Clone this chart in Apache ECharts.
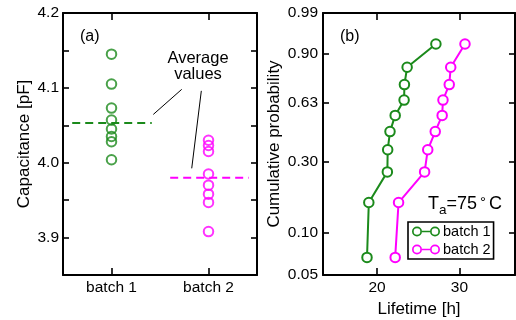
<!DOCTYPE html>
<html><head><meta charset="utf-8">
<script src="https://cdn.jsdelivr.net/npm/echarts@6/dist/echarts.min.js"></script>
<style>html,body{margin:0;padding:0;background:#fff}#c{width:516px;height:320px}</style>
</head><body><div id="c"></div>
<script>
// ---- data ----
const batchLabels = ['batch 1', 'batch 2'];
const capBatch1 = [4.145, 4.105, 4.073, 4.057, 4.045, 4.035, 4.028, 4.004];
const capBatch2 = [4.030, 4.023, 4.015, 3.985, 3.970, 3.958, 3.947, 3.908];
const capAverages = [4.053, 3.980];
const capTicks = [3.9, 4.0, 4.1, 4.2];
const capAllTicks = [3.9, 3.95, 4.0, 4.05, 4.1, 4.15, 4.2];
const lifeBatch1 = [18.78, 19.0, 21.25, 21.29, 21.57, 22.2, 23.28, 23.32, 23.65, 27.14];
const lifeBatch2 = [22.2, 22.61, 25.77, 26.15, 27.06, 27.9, 28.0, 28.76, 28.94, 30.67];
const cumProb = [0.067, 0.163, 0.260, 0.356, 0.452, 0.548, 0.644, 0.740, 0.837, 0.933];
const probTicks = [0.05, 0.10, 0.30, 0.63, 0.90, 0.99];
const lifeTicks = [20, 30];

const GREEN = '#1b8a1b', MAGENTA = '#ff00ff';
const FONT = 'Liberation Sans, Arial, Helvetica, sans-serif';

// Weibull probability scale
const wb = p => Math.log(-Math.log(1 - p));
const probTickW = probTicks.map(wb);
const probLabel = v => {
  let best = 0;
  probTickW.forEach((w, i) => { if (Math.abs(w - v) < Math.abs(probTickW[best] - v)) best = i; });
  return probTicks[best].toFixed(2);
};

const axLine = { show: true, onZero: false, lineStyle: { color: '#000', width: 2 } };
const tickStyle = { color: '#000', width: 1.6 };
const lblStyle = { color: '#000', fontSize: 15.5, fontFamily: FONT };
const nameStyle = { color: '#000', fontSize: 17, fontFamily: FONT };

const chart = echarts.init(document.getElementById('c'), null, { renderer: 'canvas' });
const option = {
  animation: false,
  backgroundColor: '#fff',
  textStyle: { fontFamily: FONT },
  grid: [
    { left: 63, top: 13, width: 194, height: 262, outerBoundsMode: 'none' },
    { left: 323, top: 13, width: 192, height: 262, outerBoundsMode: 'none' }
  ],
  xAxis: [
    { gridIndex: 0, type: 'value', min: 0.5, max: 2.5, position: 'bottom',
      axisLine: axLine, splitLine: { show: false },
      axisTick: { inside: true, length: 7, lineStyle: tickStyle, customValues: [1, 2] },
      axisLabel: { ...lblStyle, margin: 5, customValues: [1, 2], formatter: v => batchLabels[Math.round(v) - 1] } },
    { gridIndex: 0, type: 'value', min: 0.5, max: 2.5, position: 'top',
      axisLine: axLine, splitLine: { show: false },
      axisTick: { inside: true, length: 7, lineStyle: tickStyle, customValues: [1, 2] },
      axisLabel: { show: false } },
    { gridIndex: 1, type: 'value', min: 13.44, max: 36.74, position: 'bottom',
      name: 'Lifetime [h]', nameLocation: 'middle', nameGap: 20, nameTextStyle: nameStyle,
      axisLine: axLine, splitLine: { show: false },
      axisTick: { inside: true, length: 7, lineStyle: tickStyle, customValues: lifeTicks },
      axisLabel: { ...lblStyle, margin: 5, customValues: lifeTicks } },
    { gridIndex: 1, type: 'value', min: 13.44, max: 36.74, position: 'top',
      axisLine: axLine, splitLine: { show: false },
      axisTick: { inside: true, length: 7, lineStyle: tickStyle, customValues: lifeTicks },
      axisLabel: { show: false } }
  ],
  yAxis: [
    { gridIndex: 0, type: 'value', min: 3.85, max: 4.2, position: 'left',
      name: 'Capacitance [pF]', nameLocation: 'middle', nameGap: 30, nameTextStyle: nameStyle,
      axisLine: axLine, splitLine: { show: false },
      axisTick: { inside: true, length: 6, lineStyle: tickStyle, customValues: capAllTicks },
      axisLabel: { ...lblStyle, margin: 4, customValues: capTicks, formatter: v => v.toFixed(1) } },
    { gridIndex: 0, type: 'value', min: 3.85, max: 4.2, position: 'right',
      axisLine: axLine, splitLine: { show: false },
      axisTick: { inside: true, length: 6, lineStyle: tickStyle, customValues: capAllTicks },
      axisLabel: { show: false } },
    { gridIndex: 1, type: 'value', min: wb(0.05), max: wb(0.99), position: 'left',
      name: 'Cumulative probability', nameLocation: 'middle', nameGap: 40, nameTextStyle: nameStyle,
      axisLine: axLine, splitLine: { show: false },
      axisTick: { inside: true, length: 6, lineStyle: tickStyle, customValues: probTickW },
      axisLabel: { ...lblStyle, margin: 5, customValues: probTickW, formatter: probLabel } },
    { gridIndex: 1, type: 'value', min: wb(0.05), max: wb(0.99), position: 'right',
      axisLine: axLine, splitLine: { show: false },
      axisTick: { inside: true, length: 6, lineStyle: tickStyle, customValues: probTickW },
      axisLabel: { show: false } }
  ],
  legend: {
    data: [
      { name: batchLabels[0], itemStyle: { color: GREEN, borderWidth: 0 } },
      { name: batchLabels[1], itemStyle: { color: MAGENTA, borderWidth: 0 } }
    ],
    orient: 'vertical', left: 408, top: 222,
    itemWidth: 28, itemHeight: 10, itemGap: 3,
    icon: 'path://M0 5A5 5 0 1 1 10 5A5 5 0 1 1 0 5ZM1.7 5A3.3 3.3 0 1 0 8.3 5A3.3 3.3 0 1 0 1.7 5ZM10 4.25L18 4.25L18 5.75L10 5.75ZM18 5A5 5 0 1 1 28 5A5 5 0 1 1 18 5ZM19.7 5A3.3 3.3 0 1 0 26.3 5A3.3 3.3 0 1 0 19.7 5Z',
    itemStyle: { borderWidth: 0 },
    textStyle: { color: '#000', fontSize: 14.5, fontFamily: FONT, padding: [0, 0, 0, -2] },
    padding: [2, 3, 2, 4], borderColor: '#000', borderWidth: 1.6, selectedMode: false
  },
  graphic: [
    { type: 'text', left: 80, top: 29, style: { text: '(a)', fontSize: 16, fontFamily: FONT, fill: '#000' } },
    { type: 'text', left: 340, top: 29, style: { text: '(b)', fontSize: 16, fontFamily: FONT, fill: '#000' } },
    { type: 'text', x: 198, y: 66, style: { text: 'Average\nvalues', fontSize: 16.5, lineHeight: 16, fontFamily: FONT, fill: '#000', align: 'center', verticalAlign: 'middle' } },
    { type: 'text', x: 428, y: 204, style: {
        text: '{t|T}{s|a}{t|=75}{d|°}{t|C}', verticalAlign: 'middle',
        rich: { t: { fontSize: 18, fontFamily: FONT, fill: '#000' },
                s: { fontSize: 13.5, fontFamily: FONT, fill: '#000', padding: [13, 0, 0, 0] },
                d: { fontSize: 15, fontFamily: FONT, fill: '#000', padding: [0, 3, 3, 3] } } } }
  ],
  series: [
    { name: 'cap batch 1', type: 'scatter', xAxisIndex: 0, yAxisIndex: 0,
      data: capBatch1.map(v => [1, v]), symbol: 'circle', symbolSize: 9.5,
      itemStyle: { color: 'rgba(255,255,255,0)', borderColor: GREEN, borderWidth: 2 }, z: 3 },
    { name: 'cap batch 2', type: 'scatter', xAxisIndex: 0, yAxisIndex: 0,
      data: capBatch2.map(v => [2, v]), symbol: 'circle', symbolSize: 9.5,
      itemStyle: { color: 'rgba(255,255,255,0)', borderColor: MAGENTA, borderWidth: 2 }, z: 3 },
    { name: 'avg batch 1', type: 'line', xAxisIndex: 0, yAxisIndex: 0, symbol: 'none',
      data: [[0.595, capAverages[0]], [1.415, capAverages[0]]],
      lineStyle: { color: GREEN, width: 2, type: [8, 5] } },
    { name: 'avg batch 2', type: 'line', xAxisIndex: 0, yAxisIndex: 0, symbol: 'none',
      data: [[1.605, capAverages[1]], [2.415, capAverages[1]]],
      lineStyle: { color: MAGENTA, width: 2, type: [8, 5] } },
    { name: 'pointer 1', type: 'line', xAxisIndex: 0, yAxisIndex: 0, symbol: 'none',
      data: [[1.724, 4.098], [1.431, 4.0645]], lineStyle: { color: '#000', width: 1 } },
    { name: 'pointer 2', type: 'line', xAxisIndex: 0, yAxisIndex: 0, symbol: 'none',
      data: [[1.926, 4.096], [1.827, 3.9925]], lineStyle: { color: '#000', width: 1 } },
    { name: 'batch 1', type: 'line', xAxisIndex: 2, yAxisIndex: 2,
      data: lifeBatch1.map((v, i) => [v, wb(cumProb[i])]),
      symbol: 'circle', symbolSize: 9.5, color: GREEN,
      lineStyle: { color: GREEN, width: 2 }, itemStyle: { color: '#fff', borderColor: GREEN, borderWidth: 2 } },
    { name: 'batch 2', type: 'line', xAxisIndex: 2, yAxisIndex: 2,
      data: lifeBatch2.map((v, i) => [v, wb(cumProb[i])]),
      symbol: 'circle', symbolSize: 9.5, color: MAGENTA,
      lineStyle: { color: MAGENTA, width: 2 }, itemStyle: { color: '#fff', borderColor: MAGENTA, borderWidth: 2 } }
  ]
};
chart.setOption(option);
</script></body></html>
